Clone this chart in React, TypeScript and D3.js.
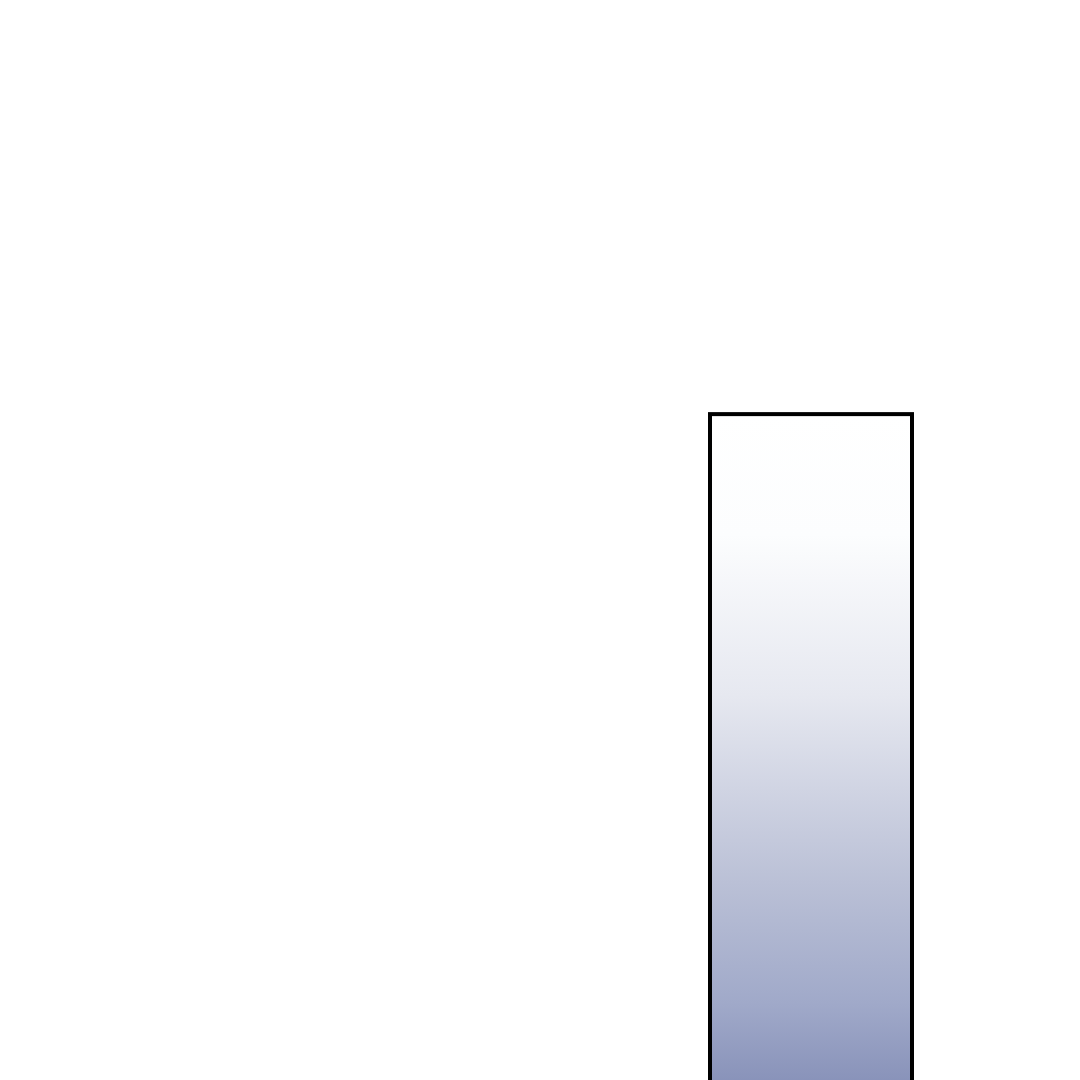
import React, { useEffect, useRef } from 'react';
import * as d3 from 'd3';

// Only one bar is visible in this (cropped) view of the chart
const categories = ['', 'A'];
const values = [0, 62];

// gradient stops for the bar fill (offset from bar top)
const gradientOffsets = [0, 0.18, 0.42, 0.7, 0.88, 1];
const gradientColors = ['#ffffff', '#fcfdfe', '#e6e8f0', '#bac0d6', '#a0a9c9', '#8892b9'];

const WIDTH = 1080;
const HEIGHT = 1080;

export default function App() {
  const svgRef = useRef<SVGSVGElement | null>(null);

  useEffect(() => {
    if (!svgRef.current) {
      return;
    }
    const svg = d3.select(svgRef.current);
    svg.selectAll('*').remove();

    const x = d3.scaleBand<string>()
      .domain(categories)
      .range([205, 1013])
      .paddingInner(0.5)
      .paddingOuter(0.25);

    // baseline sits at the bottom edge of the view
    const y = d3.scaleLinear()
      .domain([0, 100])
      .range([HEIGHT, HEIGHT - 1074]);

    const defs = svg.append('defs');
    const grad = defs.append('linearGradient')
      .attr('id', 'barGrad')
      .attr('x1', 0).attr('y1', 0)
      .attr('x2', 0).attr('y2', 1);
    grad.selectAll('stop')
      .data(gradientOffsets)
      .join('stop')
      .attr('offset', d => d)
      .attr('stop-color', (_, i) => gradientColors[i]);

    const data = categories.map((c, i) => ({ c, v: values[i] })).filter(d => d.v > 0);

    svg.append('g')
      .selectAll('rect')
      .data(data)
      .join('rect')
      .attr('x', d => x(d.c) ?? 0)
      .attr('y', d => y(d.v))
      .attr('width', x.bandwidth())
      .attr('height', d => y(0) - y(d.v) + 4)
      .attr('fill', 'url(#barGrad)')
      .attr('stroke', '#000000')
      .attr('stroke-width', 4);
  }, []);

  return (
    <div style={{ position: 'absolute', left: 0, top: 0, width: WIDTH, height: HEIGHT, background: '#ffffff' }}>
      <svg ref={svgRef} width={WIDTH} height={HEIGHT} style={{ display: 'block' }} />
    </div>
  );
}
